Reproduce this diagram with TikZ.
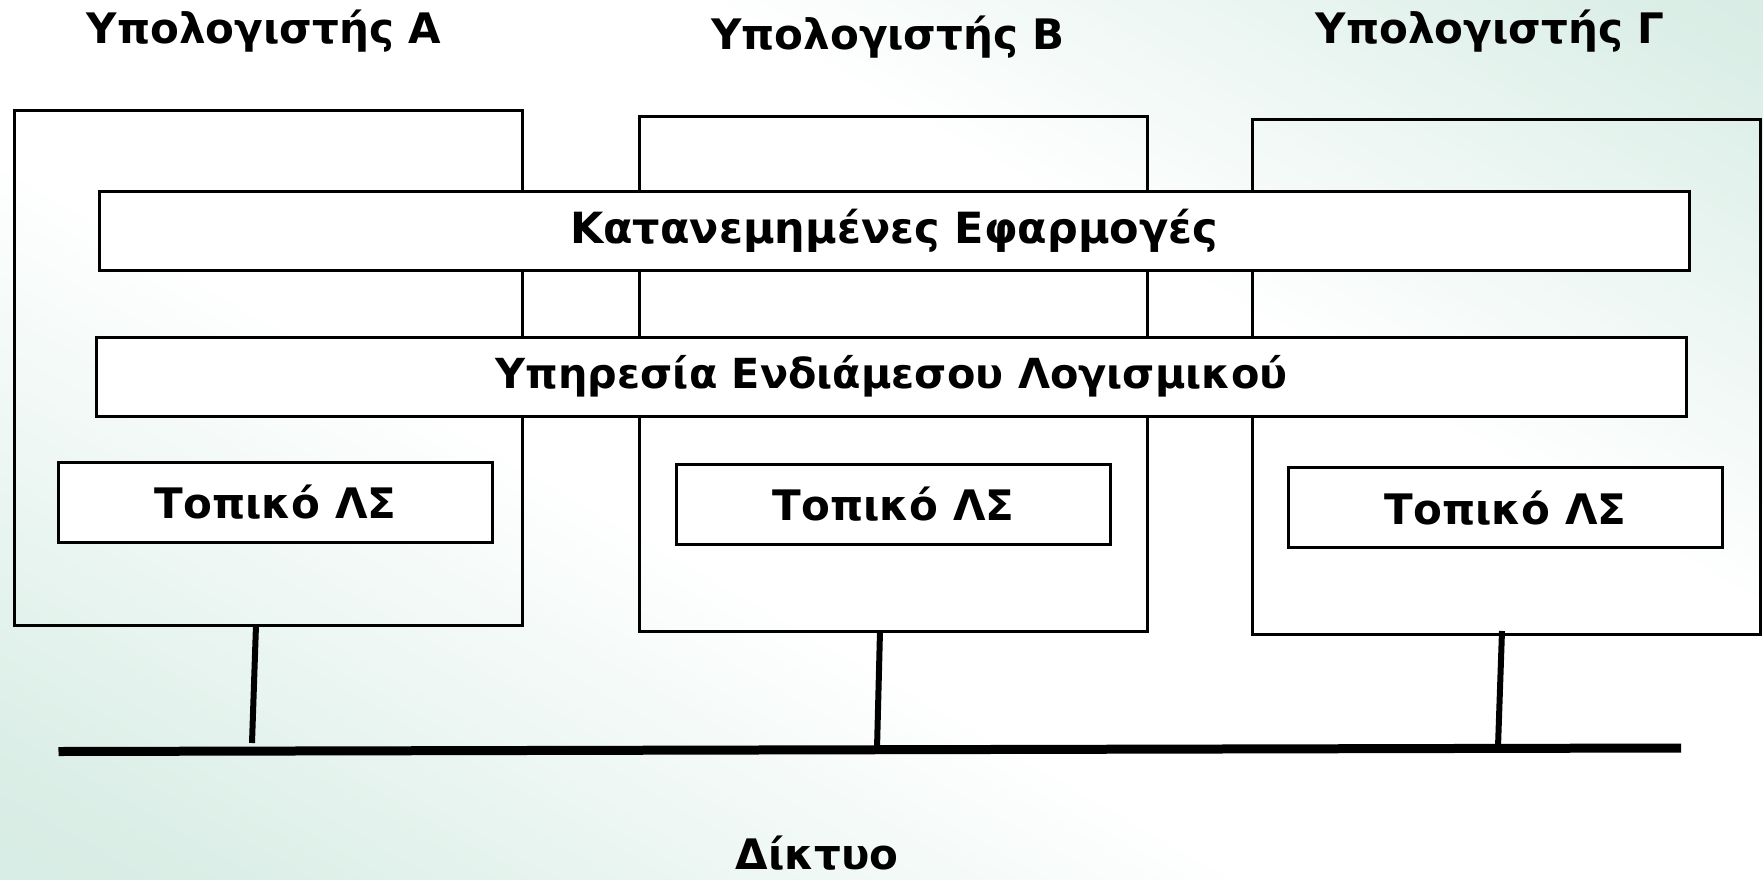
\documentclass[tikz,border=0pt]{standalone}
\usepackage{fontspec}
\setmainfont{DejaVu Sans}
\usetikzlibrary{calc}
\definecolor{bggreen}{RGB}{206,232,222}
% diagonal band: green corners, white middle
\pgfdeclareverticalshading{bgband}{100bp}{color(0bp)=(bggreen); color(20bp)=(bggreen!75!white); color(42bp)=(white); color(62bp)=(white); color(82bp)=(bggreen!75!white); color(100bp)=(bggreen)}
\tikzset{
  host/.style={draw=black, line width=1.5pt, minimum width=254pt, minimum height=257.5pt, inner sep=0pt},
  layer/.style={draw=black, line width=1.5pt, fill=white, minimum width=795pt, minimum height=39.5pt, inner sep=0pt,
                font=\fontsize{21.5}{25}\selectfont\bfseries},
  localos/.style={draw=black, line width=1.5pt, fill=white, minimum width=217pt, minimum height=40pt, inner sep=0pt,
                  font=\fontsize{21}{25}\selectfont\bfseries},
  title/.style={font=\fontsize{21}{25}\selectfont\bfseries, inner sep=0pt},
  drop/.style={line width=3pt},
  bus/.style={line width=4.5pt},
}
\begin{document}
\begin{tikzpicture}[x=0.5pt, y=-0.5pt]
  \useasboundingbox (0,0) rectangle (1763,879);
  % background
  \shade[shading=bgband, shading angle=-30] (0,0) rectangle (1763,879);

  % computers
  \node[host] (hostA) at (268.7,367.5) {};
  \node[host] (hostB) at (893.5,373.5) {};
  \node[host] (hostC) at (1506,376.5) {};

  \node[title] (tA) at (264,31) {Υπολογιστής Α};
  \node[title] (tB) at (888,37) {Υπολογιστής Β};
  \node[title] (tC) at (1490,31) {Υπολογιστής Γ};

  % shared layers
  \node[layer] (apps) at (894,230.5) {Κατανεμημένες Εφαρμογές};
  \node[layer, font=\fontsize{20.7}{25}\selectfont\bfseries] (mw) at (891.6,376.5) {Υπηρεσία Ενδιάμεσου Λογισμικού};

  % local operating systems
  \node[localos] (osA) at (275.5,502) {Τοπικό ΛΣ};
  \node[localos] (osB) at (893.5,504) {Τοπικό ΛΣ};
  \node[localos] (osC) at (1505.6,507.8) {Τοπικό ΛΣ};

  % network
  \coordinate (netL) at (58.5,751.5);
  \coordinate (netR) at (1681,748);
  \draw[bus] (netL) -- (netR);
  \node[title] (net) at (817,853) {Δίκτυο};

  \coordinate (dA) at (256,625);
  \coordinate (bA) at (252,743);
  \coordinate (dB) at (880,631);
  \coordinate (bB) at (877,749);
  \coordinate (dC) at (1502,631);
  \coordinate (bC) at (1498,747);
  \draw[drop] (dA) -- (bA);
  \draw[drop] (dB) -- (bB);
  \draw[drop] (dC) -- (bC);
\end{tikzpicture}
\end{document}
